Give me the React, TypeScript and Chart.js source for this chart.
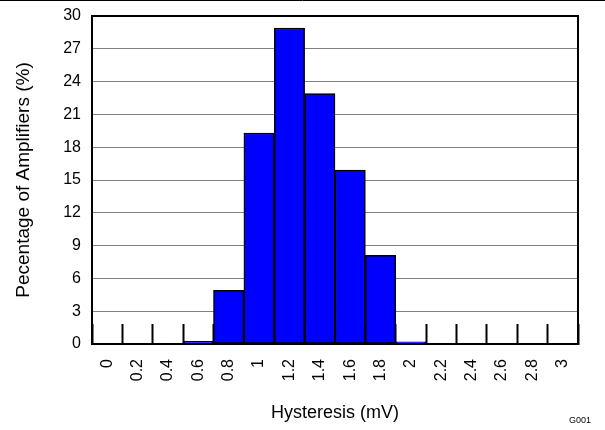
import React, { useEffect, useRef } from 'react';
import { Chart, registerables } from 'chart.js';

Chart.register(...registerables);

// ---- data ----
const categories: string[] = ['0', '0.2', '0.4', '0.6', '0.8', '1', '1.2', '1.4', '1.6', '1.8', '2', '2.2', '2.4', '2.6', '2.8', '3'];
const percentages: number[] = [0, 0, 0, 0.25, 4.9, 19.3, 28.9, 22.9, 15.9, 8.1, 0.2, 0, 0, 0, 0, 0];
const yMin = 0;
const yMax = 30;
const yStep = 3;
const xTitle = 'Hysteresis (mV)';
const yTitle = 'Pecentage of Amplifiers (%)';
const figureId = 'G001';

const FONT = "'Liberation Sans', Arial, Helvetica, sans-serif";

const framePlugin = {
  id: 'frame',
  afterDatasetsDraw(chart: any) {
    const { ctx, chartArea: a } = chart;
    ctx.save();
    ctx.strokeStyle = '#000';
    ctx.lineWidth = 2;
    ctx.strokeRect(a.left, a.top, a.right - a.left, a.bottom - a.top);
    ctx.restore();
  },
  afterDraw(chart: any) {
    const { ctx, width, height } = chart;
    ctx.save();
    ctx.strokeStyle = '#000';
    ctx.lineWidth = 1;
    ctx.beginPath();
    ctx.moveTo(0, 0.5);
    ctx.lineTo(width, 0.5);
    ctx.stroke();
    ctx.fillStyle = '#000';
    ctx.font = `9px ${FONT}`;
    ctx.textAlign = 'right';
    ctx.textBaseline = 'middle';
    ctx.fillText(figureId, width - 14, height - 9);
    ctx.restore();
  },
};

export default function App() {
  const ref = useRef<HTMLCanvasElement | null>(null);

  useEffect(() => {
    document.body.style.margin = '0';
    const canvas = ref.current;
    if (!canvas) return;
    const chart = new Chart(canvas, {
      type: 'bar',
      data: {
        labels: categories,
        datasets: [
          {
            data: percentages,
            backgroundColor: '#0000FF',
            borderColor: '#000000',
            borderWidth: 1.5,
            borderSkipped: false,
            barPercentage: 1,
            categoryPercentage: 1,
          },
        ],
      },
      options: {
        responsive: false,
        animation: false,
        layout: { padding: { left: 8, right: 27, top: 16, bottom: 2 } },
        plugins: {
          legend: { display: false },
          tooltip: { enabled: false },
        },
        scales: {
          x: {
            type: 'category',
            offset: true,
            afterFit: (scale: any) => {
              scale.height = 84;
              scale.paddingLeft = 0;
              scale.paddingRight = 0;
            },
            grid: {
              display: true,
              offset: true,
              drawOnChartArea: false,
              drawTicks: true,
              tickLength: -20,
              tickWidth: 2,
              tickColor: '#000',
            },
            border: { display: true, color: '#000', width: 2 },
            ticks: {
              autoSkip: false,
              minRotation: 90,
              maxRotation: 90,
              padding: 35,
              color: '#000',
              font: { family: FONT, size: 16 },
            },
            title: {
              display: true,
              text: xTitle,
              color: '#000',
              font: { family: FONT, size: 18 },
              padding: { top: 4, bottom: 4 },
            },
          },
          y: {
            min: yMin,
            max: yMax,
            afterFit: (scale: any) => {
              scale.width = 84;
              scale.paddingTop = 0;
              scale.paddingBottom = 0;
            },
            grid: {
              color: '#808080',
              lineWidth: 1,
              drawTicks: false,
            },
            border: { display: true, color: '#000', width: 2 },
            ticks: {
              stepSize: yStep,
              padding: 11,
              color: '#000',
              font: { family: FONT, size: 16 },
            },
            title: {
              display: true,
              text: yTitle,
              color: '#000',
              font: { family: FONT, size: 19 },
              padding: { top: 4, bottom: 4 },
            },
          },
        },
      },
      plugins: [framePlugin],
    });
    return () => chart.destroy();
  }, []);

  return (
    <div style={{ width: 605, height: 430 }}>
      <canvas ref={ref} width={605} height={430} style={{ display: 'block' }} />
    </div>
  );
}
